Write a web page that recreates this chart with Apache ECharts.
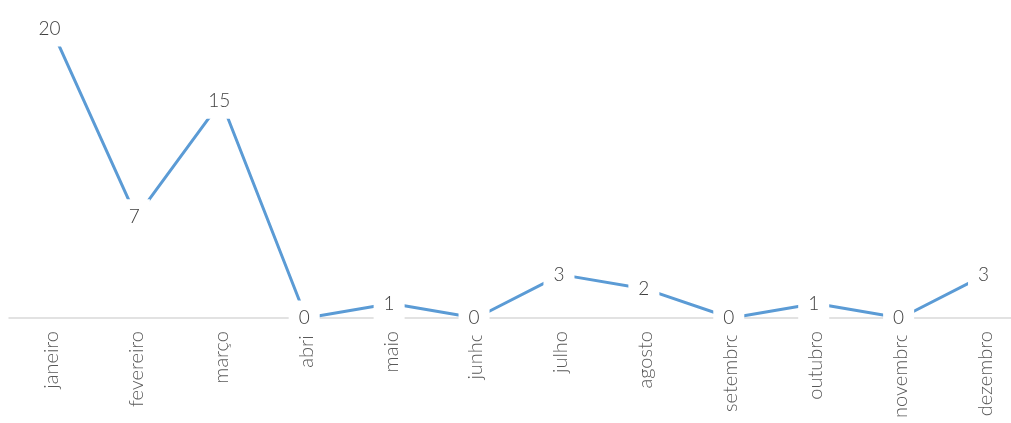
<!DOCTYPE html>
<html><head><meta charset="utf-8">
<script src="https://cdn.jsdelivr.net/npm/echarts@6/dist/echarts.min.js"></script>
<style>html,body{margin:0;padding:0;background:#fff;overflow:hidden}#c{width:1028px;height:423px}</style>
</head><body><div id="c"></div>
<script>
const categories = ['janeiro','fevereiro','março','abril','maio','junho','julho','agosto','setembro','outubro','novembro','dezembro'];
const values = [20,7,15,0,1,0,3,2,0,1,0,3];

const chart = echarts.init(document.getElementById('c'));
chart.setOption({
  animation: false,
  grid: { left: 9, right: 0, top: 0, bottom: 105, containLabel: false },
  xAxis: {
    type: 'category', data: categories, boundaryGap: true,
    axisLine: { lineStyle: { color: '#d9d9d9', width: 1.5 } },
    axisTick: { show: false },
    axisLabel: { rotate: 90, margin: 13, color: '#595959', fontFamily: 'Lato', fontWeight: 300, fontSize: 20 }
  },
  yAxis: { type: 'value', min: 0, max: 22, show: false, splitLine: { show: false } },
  series: [{
    type: 'line', data: values, symbol: 'circle', symbolSize: 2, showSymbol: true,
    itemStyle: { color: 'rgba(0,0,0,0)', borderWidth: 0 },
    lineStyle: { color: '#5b9bd5', width: 3 },
    label: {
      show: true, position: 'inside', offset: [-2, 0], color: '#404040', fontFamily: 'Lato', fontWeight: 300, fontSize: 19,
      backgroundColor: '#fff', padding: [9, 10, 7, 10]
    },
    z: 3
  }]
});
</script></body></html>
